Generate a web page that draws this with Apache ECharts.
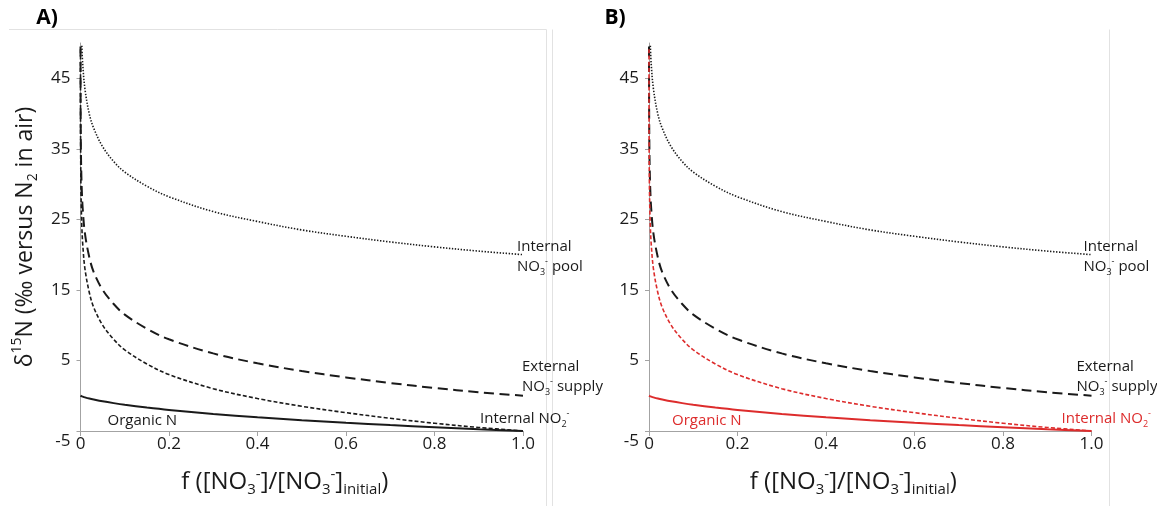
<!DOCTYPE html>
<html>
<head>
<meta charset="utf-8">
<script src="https://cdn.jsdelivr.net/npm/echarts@6/dist/echarts.min.js"></script>
<style>
  html, body { margin: 0; padding: 0; background: #ffffff; }
  #chart { width: 1157px; height: 506px; }
</style>
</head>
<body>
<div id="chart"></div>
<script>
// Remaining NO3- fraction f at which each curve is sampled
const fractions = [0, 0.00002, 0.00005, 0.0001, 0.0003, 0.001, 0.002, 0.003, 0.005, 0.01,
  0.02, 0.03, 0.05, 0.075, 0.1, 0.15, 0.2, 0.3, 0.4, 0.5, 0.6, 0.7, 0.8, 0.9, 1.0];

// δ15N (‰) for each model pool; null where the curve runs off the top of the axis
const internalPool = [null, null, null, null, null, null, null, 49.6, 47.0, 43.5,
  39.9, 37.9, 35.3, 33.2, 31.7, 29.7, 28.2, 26.1, 24.7, 23.5, 22.6, 21.8, 21.1, 20.5, 20.0];
const externalSupply = [null, null, 49.5, 46.0, 40.6, 34.5, 31.1, 29.0, 26.5, 23.0,
  19.6, 17.5, 15.0, 13.0, 11.5, 9.5, 8.0, 6.0, 4.6, 3.5, 2.6, 1.8, 1.1, 0.5, 0.0];
const internalNitrite = [null, 49.1, 44.5, 41.1, 35.6, 29.5, 26.1, 24.0, 21.5, 18.0,
  14.6, 12.5, 10.0, 8.0, 6.5, 4.5, 3.0, 1.0, -0.4, -1.5, -2.4, -3.2, -3.9, -4.5, -5.0];
const organicN = [0, -0.01, -0.01, -0.01, -0.01, -0.04, -0.06, -0.09, -0.13, -0.23,
  -0.40, -0.54, -0.79, -1.05, -1.28, -1.67, -2.01, -2.58, -3.05, -3.47, -3.83, -4.16, -4.46, -4.74, -5.0];

// Axis ticks
const xTickLabels = ['0', '0.2', '0.4', '0.6', '0.8', '1.0'];
const yTickValues = [-5, 5, 15, 25, 35, 45];

const FONT = 'Open Sans';
const INK = '#1a1a1a';
const RED = '#dd2c2c';
const AXIS_GREY = '#a3a3a3';

function pairs(values) {
  return fractions.map((f, i) => [f, values[i]]);
}

function xAxisFor(i) {
  return {
    gridIndex: i, type: 'value', min: 0, max: 1, interval: 0.2,
    axisLine: { show: true, onZero: false, lineStyle: { color: AXIS_GREY, width: 1 } },
    axisTick: { show: true, length: 5, lineStyle: { color: AXIS_GREY } },
    axisLabel: {
      margin: 5, fontSize: 17, fontFamily: FONT, color: INK,
      formatter: v => xTickLabels[Math.round(v / 0.2)]
    },
    splitLine: { show: false },
    name: 'f ([NO{s|3}{p|-}]/[NO{s|3}{p|-}]{s|initial})',
    nameLocation: 'middle', nameGap: 36,
    nameTextStyle: {
      fontSize: 24, fontFamily: FONT, color: INK, lineHeight: 30,
      padding: [0, 34, 0, 0],
      rich: {
        s: { fontSize: 15, fontFamily: FONT, color: INK, verticalAlign: 'bottom', lineHeight: 14 },
        p: { fontSize: 15, fontFamily: FONT, color: INK, verticalAlign: 'top', lineHeight: 14 }
      }
    }
  };
}

function yAxisFor(i) {
  const ax = {
    gridIndex: i, type: 'value', min: -5, max: 50,
    axisLine: { show: true, onZero: false, lineStyle: { color: AXIS_GREY, width: 1 } },
    axisTick: { show: true, length: 4, customValues: yTickValues, lineStyle: { color: AXIS_GREY } },
    axisLabel: {
      customValues: yTickValues, margin: 10, fontSize: 17, fontFamily: FONT, color: INK,
      formatter: v => (v === -5 ? '{low|-5}' : String(v)),
      rich: { low: { fontSize: 17, fontFamily: FONT, color: INK, padding: [20, 0, 0, 0] } }
    },
    splitLine: { show: false }
  };
  if (i === 0) {
    ax.name = 'δ{p|15}N (‰ versus N{s|2} in air)';
    ax.nameLocation = 'middle';
    ax.nameGap = 40;
    ax.nameRotate = 90;
    ax.nameTextStyle = {
      fontSize: 23, fontFamily: FONT, color: INK, lineHeight: 30,
      rich: {
        s: { fontSize: 14, fontFamily: FONT, color: INK, verticalAlign: 'bottom', lineHeight: 13 },
        p: { fontSize: 14, fontFamily: FONT, color: INK, verticalAlign: 'top', lineHeight: 13 }
      }
    };
  }
  return ax;
}

function curve(name, values, i, color, type, width) {
  return {
    name, type: 'line', xAxisIndex: i, yAxisIndex: i,
    data: pairs(values), showSymbol: false, symbol: 'none',
    smooth: 0.35, connectNulls: false,
    lineStyle: { color, width, type, cap: 'butt' },
    silent: true, z: 3
  };
}

function panelSeries(i, accent) {
  return [
    curve('Internal NO3- pool', internalPool, i, INK, [1.4, 1.6], 1.6),
    curve('External NO3- supply', externalSupply, i, INK, [10, 5.5], 2),
    curve('Internal NO2-', internalNitrite, i, accent, [4, 2.2], 1.6),
    curve('Organic N', organicN, i, accent, 'solid', 2)
  ];
}

const chart = echarts.init(document.getElementById('chart'), null, { renderer: 'canvas' });

chart.setOption({
  animation: false,
  backgroundColor: '#ffffff',
  grid: [
    { left: 80.5, top: 43, width: 442.5, height: 388 },
    { left: 649, top: 43, width: 442.5, height: 388 }
  ],
  xAxis: [xAxisFor(0), xAxisFor(1)],
  yAxis: [yAxisFor(0), yAxisFor(1)],
  series: [...panelSeries(0, INK), ...panelSeries(1, RED)]
});

// Curve captions, anchored in data space at the end of each curve;
// dx holds the horizontal offset for panel A and panel B
const captions = [
  { text: 'Internal\nNO{s|3}{p|-} pool', f: 1.0, v: 20, dx: [-6, -8], dy: -18, accent: false },
  { text: 'External\nNO{s|3}{p|-} supply', f: 1.0, v: 0, dx: [-1, -15], dy: -39, accent: false },
  { text: 'Internal NO{s|2}{p|-}', f: 1.0, v: -5, dx: [-43, -30], dy: -22, accent: true },
  { text: 'Organic N', f: 0, v: -5, dx: [27, 23], dy: -20, accent: true }
];

const graphics = [];
// panel frames
const frameStyle = { stroke: '#e2e2e2', lineWidth: 1 };
[[9, 29.5, 546.5, 29.5], [546.5, 29.5, 546.5, 506], [552.5, 29.5, 552.5, 506], [1109.5, 29.5, 1109.5, 506]]
  .forEach(([x1, y1, x2, y2]) => graphics.push({
    type: 'line', shape: { x1, y1, x2, y2 }, style: frameStyle, silent: true, z: 0
  }));

// panel letters
[['A)', 47], ['B)', 615]].forEach(([t, cx]) => graphics.push({
  type: 'text', x: cx, y: 18,
  style: { text: t, fontSize: 21, fontWeight: 'bold', fontFamily: FONT, fill: '#000',
    textAlign: 'center', textVerticalAlign: 'middle' },
  silent: true
}));

[0, 1].forEach(i => {
  captions.forEach(c => {
    const p = chart.convertToPixel({ xAxisIndex: i, yAxisIndex: i }, [c.f, c.v]);
    const color = (c.accent && i === 1) ? RED : INK;
    graphics.push({
      type: 'text', x: p[0] + c.dx[i], y: p[1] + c.dy, silent: true, z: 10,
      style: {
        text: c.text, fontSize: 15, fontFamily: FONT, fill: color, lineHeight: 20,
        textAlign: 'left', textVerticalAlign: 'top',
        rich: {
          s: { fontSize: 9, fontFamily: FONT, fill: color, verticalAlign: 'bottom', lineHeight: 9 },
          p: { fontSize: 9, fontFamily: FONT, fill: color, verticalAlign: 'top', lineHeight: 9 }
        }
      }
    });
  });
});

chart.setOption({ graphic: graphics });
</script>
</body>
</html>
